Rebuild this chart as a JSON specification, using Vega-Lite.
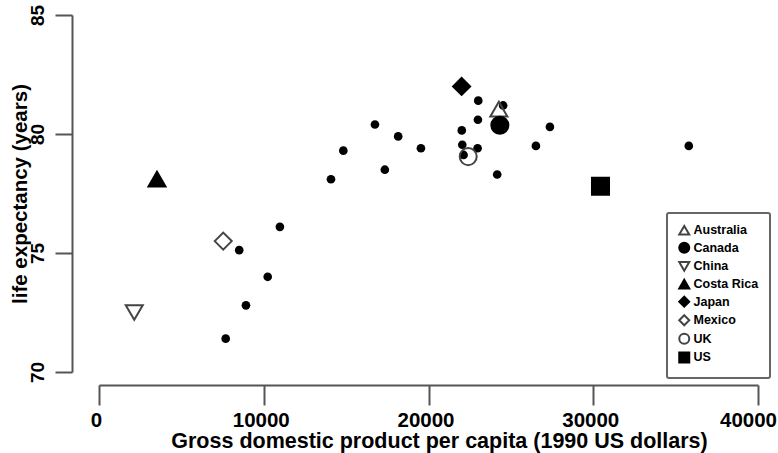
{
  "$schema": "https://vega.github.io/schema/vega-lite/v6.json",
  "width": 659,
  "height": 357,
  "autosize": {"type": "none"},
  "padding": {"left": 99, "top": 15, "right": 20, "bottom": 81},
  "background": "white",
  "config": {
    "view": {"stroke": null},
    "font": "Liberation Sans",
    "legend": {
      "padding": 11,
      "strokeColor": "#666",
      "strokeWidth": 2,
      "cornerRadius": 2,
      "fillColor": "white",
      "labelFont": "Liberation Sans",
      "labelFontWeight": "bold",
      "labelFontSize": 12.5,
      "labelColor": "black",
      "symbolSize": 100,
      "symbolStrokeWidth": 2,
      "rowPadding": -0.4,
      "labelOffset": 3
    }
  },
  "datasets": {
    "others": [
      {"gdp": 7690, "life": 71.4},
      {"gdp": 8920, "life": 72.8},
      {"gdp": 8510, "life": 75.12},
      {"gdp": 10240, "life": 74.0},
      {"gdp": 10980, "life": 76.1},
      {"gdp": 14080, "life": 78.1},
      {"gdp": 14830, "life": 79.3},
      {"gdp": 16750, "life": 80.4},
      {"gdp": 17350, "life": 78.5},
      {"gdp": 18160, "life": 79.9},
      {"gdp": 19540, "life": 79.4},
      {"gdp": 22020, "life": 80.15},
      {"gdp": 22050, "life": 79.55},
      {"gdp": 22980, "life": 79.4},
      {"gdp": 22130, "life": 79.12},
      {"gdp": 23000, "life": 80.6},
      {"gdp": 23020, "life": 81.4},
      {"gdp": 24530, "life": 81.2},
      {"gdp": 24170, "life": 78.3},
      {"gdp": 26520, "life": 79.5},
      {"gdp": 27370, "life": 80.3},
      {"gdp": 35800, "life": 79.5}
    ],
    "countries": [
      {"country": "Australia", "gdp": 24270, "life": 81.05},
      {"country": "Canada", "gdp": 24330, "life": 80.37},
      {"country": "China", "gdp": 2140, "life": 72.5},
      {"country": "Costa Rica", "gdp": 3520, "life": 78.1},
      {"country": "Japan", "gdp": 22010, "life": 82.0},
      {"country": "Mexico", "gdp": 7540, "life": 75.5},
      {"country": "UK", "gdp": 22410, "life": 79.05},
      {"country": "US", "gdp": 30440, "life": 77.8}
    ]
  },
  "encoding": {
    "x": {
      "field": "gdp",
      "type": "quantitative",
      "scale": {"domain": [0, 40000], "nice": false, "zero": false},
      "axis": {
        "title": "Gross domestic product per capita (1990 US dollars)",
        "values": [0, 10000, 20000, 30000, 40000],
        "format": "d",
        "grid": false,
        "offset": 13,
        "tickSize": 20,
        "tickColor": "#555",
        "tickWidth": 2,
        "domainColor": "#555",
        "domainWidth": 2,
        "labelFont": "Liberation Sans",
        "labelFontWeight": "bold",
        "labelFontSize": 20.5,
        "labelColor": "black",
        "labelPadding": 5,
        "labelBaseline": "top",
        "labelOffset": {"condition": {"test": "datum.value == 40000", "value": -10}, "value": -3},
        "labelFlush": false,
        "labelOverlap": false,
        "titleFont": "Liberation Sans",
        "titleFontWeight": "bold",
        "titleFontSize": 21.5,
        "titleColor": "black",
        "titleBaseline": "alphabetic",
        "titleAlign": "center",
        "titleX": 340,
        "titleY": 62
      }
    },
    "y": {
      "field": "life",
      "type": "quantitative",
      "scale": {"domain": [70, 85], "nice": false, "zero": false},
      "axis": {
        "title": "life expectancy (years)",
        "values": [70, 75, 80, 85],
        "grid": false,
        "offset": 27,
        "tickSize": 17,
        "tickColor": "#555",
        "tickWidth": 2,
        "domainColor": "#555",
        "domainWidth": 2,
        "labelFont": "Liberation Sans",
        "labelFontWeight": "bold",
        "labelFontSize": 19,
        "labelColor": "black",
        "labelAngle": 270,
        "labelAlign": "center",
        "labelBaseline": "middle",
        "labelPadding": 18,
        "labelFlush": false,
        "labelOverlap": false,
        "titleFont": "Liberation Sans",
        "titleFontWeight": "bold",
        "titleFontSize": 20.5,
        "titleColor": "black",
        "titleAngle": 270,
        "titleAlign": "center",
        "titleBaseline": "middle",
        "titleX": -52,
        "titleY": 178.5
      }
    }
  },
  "layer": [
    {
      "data": {"name": "others"},
      "mark": {"type": "circle", "size": 75, "color": "black", "opacity": 1}
    },
    {
      "data": {"name": "countries"},
      "mark": {"type": "point", "filled": true, "strokeWidth": 2, "opacity": 1},
      "encoding": {
        "size": {"value": 290},
        "shape": {
          "field": "country",
          "type": "nominal",
          "scale": {
            "domain": ["Australia", "Canada", "China", "Costa Rica", "Japan", "Mexico", "UK", "US"],
            "range": ["triangle-up", "circle", "triangle-down", "triangle-up", "diamond", "diamond", "circle", "square"]
          },
          "legend": {"orient": "none", "legendX": 568, "legendY": 198, "title": null, "symbolSize": 100}
        },
        "fill": {
          "field": "country",
          "type": "nominal",
          "scale": {
            "domain": ["Australia", "Canada", "China", "Costa Rica", "Japan", "Mexico", "UK", "US"],
            "range": ["transparent", "black", "transparent", "black", "black", "transparent", "transparent", "black"]
          },
          "legend": {"orient": "none", "legendX": 568, "legendY": 198, "title": null, "symbolSize": 100}
        },
        "stroke": {
          "field": "country",
          "type": "nominal",
          "scale": {
            "domain": ["Australia", "Canada", "China", "Costa Rica", "Japan", "Mexico", "UK", "US"],
            "range": ["#444", "black", "#444", "black", "black", "#444", "#444", "black"]
          },
          "legend": {"orient": "none", "legendX": 568, "legendY": 198, "title": null, "symbolSize": 100}
        }
      }
    }
  ]
}
